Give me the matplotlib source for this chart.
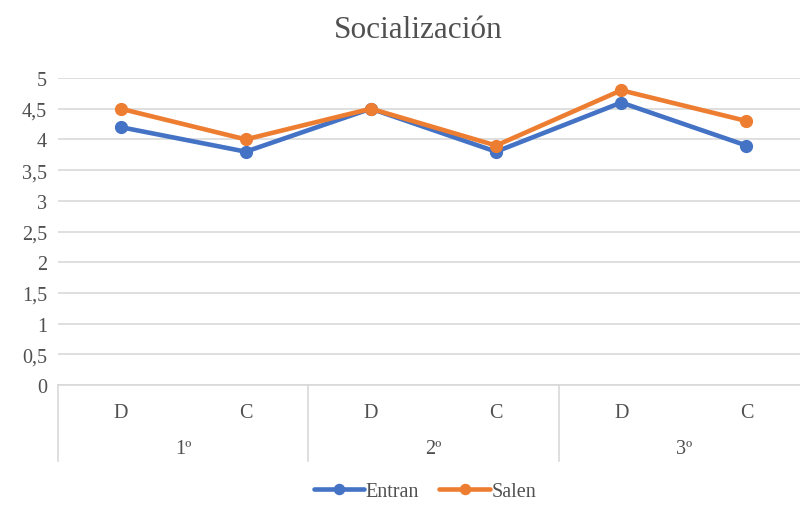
import matplotlib
matplotlib.use("Agg")
import matplotlib.pyplot as plt
from matplotlib.lines import Line2D
import matplotlib.transforms as mtransforms

categories = ["D", "C", "D", "C", "D", "C"]
groups = ["1º", "2º", "3º"]
entran = [4.2, 3.8, 4.5, 3.8, 4.6, 3.9]
salen = [4.5, 4.0, 4.5, 3.9, 4.8, 4.3]
yticks = [0, 0.5, 1, 1.5, 2, 2.5, 3, 3.5, 4, 4.5, 5]

plt.rcParams['font.family'] = ['Liberation Serif', 'DejaVu Serif']
text_color = "#505050"
grid_color = "#D9D9D9"

W, H = 800, 506
fig = plt.figure(figsize=(W / 100, H / 100), dpi=100)
left, right, top, bottom = 58, 809, 79, 386
ax = fig.add_axes([left / W, 1 - bottom / H, (right - left) / W, (bottom - top) / H])

x = list(range(len(categories)))
ax.plot(x, entran, color="#4472C4", lw=3.3, marker="o", ms=8.5, label="Entran",
        solid_capstyle="round", zorder=3)
ax.plot(x, salen, color="#ED7D31", lw=3.3, marker="o", ms=8.5, label="Salen",
        solid_capstyle="round", zorder=3)

ax.set_xlim(-0.5, len(categories) - 0.5)
ax.set_ylim(0, 5)
ax.set_yticks(yticks)
ax.set_yticklabels([("%g" % v).replace(".", ",") for v in yticks])
ax.tick_params(axis="y", length=0, pad=8, labelsize=14.5, labelcolor=text_color)
ax.set_xticks(x)
ax.set_xticklabels(categories)
ax.tick_params(axis="x", length=0, pad=13, labelsize=14.5, labelcolor=text_color)
ax.grid(axis="y", color=grid_color, lw=1.2, zorder=0)
for s in ["top", "right", "left"]:
    ax.spines[s].set_visible(False)
ax.spines["bottom"].set_color(grid_color)
ax.spines["bottom"].set_linewidth(1.2)

trans = mtransforms.blended_transform_factory(ax.transData, ax.transAxes)
sep_depth = (462 - 386) / (bottom - top)
for sx in [-0.5, 1.5, 3.5]:
    ax.add_line(Line2D([sx, sx], [0, -sep_depth], transform=trans, color=grid_color,
                       lw=1.2, clip_on=False))
group_y = -(450 - 386) / (bottom - top)
for i, g in enumerate(groups):
    ax.text(2 * i + 0.5, group_y, g, transform=trans, ha="center", va="center",
            fontsize=14.5, color=text_color)

fig.text(418 / W, 1 - 31 / H, "Socialización", ha="center", va="center",
         fontsize=22.5, color=text_color)

fig.legend(loc="center", bbox_to_anchor=(425 / W, 1 - 492 / H), ncol=2, frameon=False,
           fontsize=14.5, labelcolor=text_color, handlelength=2.5, handletextpad=0.1,
           columnspacing=1.0, markerscale=0.85)

fig.savefig("out.png", dpi=100)
